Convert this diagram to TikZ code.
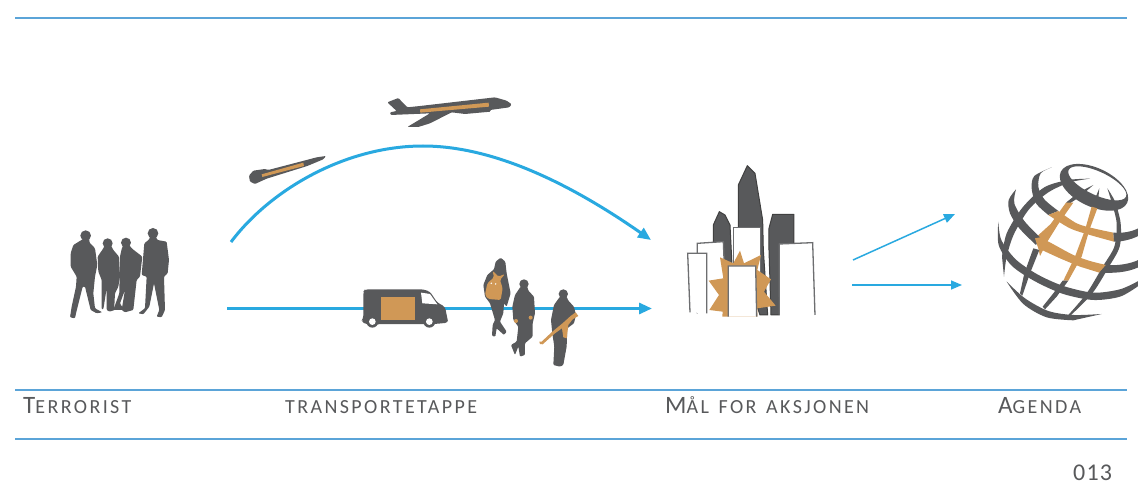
\documentclass[tikz,border=0pt]{standalone}
\usepackage{fontspec}
\setmainfont{Carlito}
\newfontfamily\capsfont[LetterSpace=12,WordSpace=1.4]{Carlito}
\newfontfamily\numfont[LetterSpace=5]{Carlito}
\usetikzlibrary{arrows.meta}
\definecolor{dk}{HTML}{58595B}
\definecolor{org}{HTML}{D09856}
\definecolor{blu}{HTML}{29A9E0}
\definecolor{rul}{HTML}{5BA4D8}
\definecolor{grayl}{HTML}{6D6E70}
\newcommand{\biginit}[1]{{\fontsize{25}{25}\selectfont #1}}
\tikzset{
  x=1pt,y=-1pt,
  rulestyle/.style={draw=rul,line width=1.4pt},
  mainarrow/.style={draw=blu,line width=3pt,-{Triangle[length=13pt,width=11pt]}},
  thinarrow/.style={draw=blu,line width=1.5pt,-{Triangle[length=11pt,width=9pt]}},
  dark/.style={fill=dk,draw=none,rounded corners=1pt},
  orange/.style={fill=org,draw=none},
  tower/.style={fill=dk,draw=black!75,line width=1pt,line join=round},
  bld/.style={fill=white,draw=grayl,line width=1.3pt},
  lab/.style={anchor=base west,inner sep=0pt,text=dk,font=\capsfont\fontsize{20}{20}\selectfont},
  za/.style={shift={(50pt,-80pt)},x=.3333pt,y=-.3333pt},
  zb/.style={shift={(350pt,-80pt)},x=.3333pt,y=-.3333pt},
  zc/.style={shift={(670pt,-150pt)},x=.3333pt,y=-.3333pt},
  zd/.style={shift={(980pt,-150pt)},x=.3333pt,y=-.3333pt},
}
\begin{document}
\begin{tikzpicture}
\useasboundingbox (0,0) rectangle (1138,484);
\fill[white] (0,0) rectangle (1138,484);
% rules
\coordinate (r1a) at (15,18); \coordinate (r1b) at (1127,18);
\coordinate (r2a) at (15,390); \coordinate (r2b) at (1127,390);
\coordinate (r3a) at (15,439); \coordinate (r3b) at (1127,439);
\draw[rulestyle] (r1a) -- (r1b);
\draw[rulestyle] (r2a) -- (r2b);
\draw[rulestyle] (r3a) -- (r3b);
% connectors
\coordinate (arcS) at (231,242); \coordinate (arcE) at (651,240);
\coordinate (lineS) at (227,308.5); \coordinate (lineE) at (652,308.5);
\coordinate (upS) at (853,260); \coordinate (upE) at (955,214);
\coordinate (rtS) at (852,285); \coordinate (rtE) at (962,285);
\draw[mainarrow] (arcS) .. controls (270,190) and (345,146) .. (423,146) .. controls (490,146) and (565,180) .. (arcE);
\draw[mainarrow] (lineS) -- (lineE);
\draw[thinarrow] (upS) -- (upE);
\draw[thinarrow] (rtS) -- (rtE);
% people group
\begin{scope}[za]
\fill[dk] (107,467) circle (16);
\fill[dk] (173,490) circle (15);
\fill[dk] (228,488) circle (15);
\fill[dk] (309,460) circle (16);
\path[dark] (143,530)--(160,505)--(165,495)--(182,495)--(190,510)--(207,530)--(210,590)--(205,620)--(195,640)--(193,680)--(195,690)--(178,695)--(170,690)--(170,625)--(160,688)--(155,688)--(155,600)--(145,575)--cycle;
\path[dark] (210,530)--(215,507)--(220,495)--(238,495)--(245,505)--(277,530)--(270,590)--(260,600)--(250,690)--(225,697)--(215,690)--(225,630)--(210,670)--(222,690)--(190,690)--(208,640)--cycle;
\path[dark] (70,495)--(98,478)--(118,478)--(118,487)--(135,505)--(142,555)--(135,590)--(130,640)--(135,685)--(157,697)--(140,700)--(122,690)--(105,620)--(98,620)--(78,700)--(75,715)--(60,712)--(65,680)--(78,620)--(80,590)--(62,560)--(62,520)--cycle;
\path[dark] (298,478)--(300,470)--(318,470)--(322,480)--(350,485)--(357,540)--(353,580)--(342,590)--(345,690)--(335,712)--(320,710)--(328,690)--(312,610)--(298,680)--(280,703)--(265,700)--(285,685)--(290,590)--(275,585)--(283,490)--cycle;
% missile
\path[dark] (597,287)--(610,272)--(645,267)--(655,270)--(770,240)--(800,232)--(828,228)--(820,238)--(772,258)--(650,296)--(615,312)--(600,305)--cycle;
\path[orange] (635,283)--(760,248)--(762,258)--(637,291)--cycle;
\end{scope}
\begin{scope}[zb]
% plane
\path[dark] (112,67)--(145,54)--(172,82)--(210,78)--(435,52)--(470,62)--(485,73)--(478,82)--(420,90)--(422,95)--(345,102)--(305,97)--(240,130)--(205,141)--(172,141)--(240,100)--(122,105)--(120,97)--(140,93)--cycle;
\path[orange] (210,88)--(416,68)--(417,80)--(211,98)--cycle;
% van
\path[dark,rounded corners=3pt] (40,635)--(45,628)--(220,628)--(240,635)--(262,668)--(285,680)--(292,715)--(295,728)--(255,732)--(50,733)--(33,725)--(40,715)--cycle;
\fill[dk] (67,725) circle (18);
\fill[dk] (238,725) circle (18);
\fill[white] (67,725) circle (10);
\fill[white] (238,725) circle (10);
\fill[white] (213,638)--(240,642)--(262,673)--(217,670)--cycle;
\path[orange] (93,651) rectangle (195,720);
% woman
\path[dark] (437,545)--(452,533)--(466,545)--(470,580)--(482,640)--(470,680)--(462,670)--(460,700)--(450,725)--(470,755)--(462,765)--(440,745)--(436,770)--(426,768)--(428,735)--(435,720)--(420,670)--(405,650)--(400,615)--(412,585)--(432,568)--cycle;
\path[orange,rounded corners=1.5pt] (428,572)--(445,590)--(465,582)--(450,600)--(458,625)--(452,660)--(415,657)--(405,645)--(412,610)--(432,592)--cycle;
\fill[white] (424,610) circle (2.5);
\fill[white] (437,612) circle (2.5);
% man 2
\fill[dk] (522,612) circle (14);
\path[dark] (512,620)--(532,620)--(535,632)--(552,650)--(555,700)--(548,730)--(548,770)--(525,790)--(525,825)--(510,830)--(505,800)--(495,825)--(483,795)--(500,785)--(505,740)--(490,720)--(487,680)--(495,645)--cycle;
\fill[org] (498,723) circle (6);
\fill[org] (542,713) circle (6);
% man 3
\fill[dk] (640,642) circle (14);
\path[dark] (630,650)--(650,650)--(655,662)--(672,680)--(678,705)--(672,730)--(652,745)--(650,800)--(640,855)--(630,860)--(610,855)--(613,800)--(607,760)--(603,720)--(612,675)--cycle;
\path[orange] (568,785)--(575,785)--(605,757)--(640,728)--(662,708)--(677,697)--(685,708)--(668,718)--(655,735)--(650,775)--(640,772)--(636,745)--(615,760)--(578,793)--(570,792)--cycle;
\end{scope}
% city
\begin{scope}[zc]
\path[tower] (205,105)--(232,47)--(255,70)--(278,210)--(280,300)--(293,495)--(270,495)--(205,300)--cycle;
\path[tower] (130,225)--(148,185)--(165,195)--(180,225)--(186,345)--(130,345)--cycle;
\path[tower] (297,235)--(308,193)--(372,193)--(372,285)--(330,285)--(328,495)--(303,495)--(297,300)--cycle;
\path[bld] (190,232)--(272,232)--(272,380)--(190,380)--cycle;
\path[bld] (82,490)--(82,280)--(160,275)--(165,400)--(165,490);
\path[bld] (60,487)--(53,310)--(110,310)--(110,490);
\path[bld] (328,495)--(328,282)--(428,278)--(435,495);
\path[orange] (210,302)--(222,340)--(273,315)--(262,360)--(303,388)--(282,425)--(317,467)--(262,475)--(262,500)--(157,500)--(158,485)--(118,480)--(147,435)--(116,392)--(160,385)--(150,322)--(190,340)--cycle;
\path[bld] (175,500)--(175,348)--(257,348)--(260,500);
\end{scope}
% globe
\begin{scope}[zd]
\fill[dk,even odd rule] (342,112) ellipse [x radius=110,y radius=58,rotate=-25] (352,100) ellipse [x radius=95,y radius=35,rotate=-25];
\fill[dk] plot[smooth] coordinates {(330,86)(270,97)(205,127)(147,178)(102,252)(80,320)(72,380)} -- plot[smooth] coordinates {(66,320)(80,250)(128,172)(193,112)(265,90)(330,86)} -- cycle;
\fill[dk] (340,105)--(300,140)--(270,160)--(258,158)--(295,128)--cycle;
\fill[org] (280,158)--(235,222)--(202,275)--(180,318)--(168,262)--(212,222)--(258,158)--cycle;
\fill[dk] (178,300)--(150,370)--(127,437)--(120,430)--(133,370)--(160,295)--cycle;
\fill[dk] (358,115)--(352,175)--(335,170)--cycle;
\fill[org] (352,175)--(328,240)--(305,320)--(265,392)--(250,392)--(285,320)--(315,240)--(335,170)--cycle;
\fill[dk] (265,392)--(230,440)--(195,478)--(188,470)--(220,430)--(248,392)--cycle;
\fill[dk] plot[smooth] coordinates {(382,115)(405,155)(422,220)(419,290)(387,350)(337,430)(270,498)} -- plot[smooth] coordinates {(265,495)(320,430)(368,350)(403,290)(410,220)(396,160)(382,115)} -- cycle;
% latitudes
\fill[dk] plot[smooth] coordinates {(215,52)(182,70)(175,110)(193,148)(235,183)} -- plot[smooth] coordinates {(205,195)(168,160)(155,115)(163,78)(215,52)} -- cycle;
\fill[org] plot[smooth] coordinates {(235,183)(290,220)(340,235)(400,248)} -- plot[smooth] coordinates {(402,275)(330,255)(270,235)(205,195)} -- cycle;
\fill[dk] (400,248) .. controls (430,250) and (455,245) .. (475,235) -- (475,258) .. controls (450,270) and (425,275) .. (402,275) -- cycle;
\fill[dk] plot[smooth] coordinates {(108,118)(103,160)(133,213)(180,262)} -- plot[smooth] coordinates {(168,285)(118,235)(90,190)(86,150)(108,118)} -- cycle;
\fill[org] plot[smooth] coordinates {(180,262)(215,280)(280,315)(330,333)(378,345)} -- (358,368) -- plot[smooth] coordinates {(300,350)(240,325)(175,295)} -- (165,265) -- cycle;
\fill[dk] (378,345) .. controls (410,348) and (450,342) .. (475,330) -- (475,352) .. controls (440,368) and (400,370) .. (358,368) -- cycle;
\fill[dk] plot[smooth] coordinates {(55,215)(64,270)(107,328)(172,373)(250,408)(340,428)(420,418)(475,393)} -- plot[smooth] coordinates {(475,408)(420,440)(340,450)(250,432)(165,394)(95,347)(56,285)(55,215)} -- cycle;
\fill[dk] plot[smooth] coordinates {(80,395)(135,445)(205,483)(280,495)(365,492)} -- plot[smooth] coordinates {(280,511)(200,502)(130,462)(80,395)} -- cycle;
\end{scope}
% labels
\node[lab] (l1) at (23,413) {\biginit{T}ERRORIST};
\node[lab] (l2) at (285,413) {TRANSPORTETAPPE};
\node[lab] (l3) at (665,413) {\biginit{M}ÅL FOR AKSJONEN};
\node[lab] (l4) at (998,413) {\biginit{A}GENDA};
\node[anchor=base west,inner sep=0pt,text=dk,font=\numfont\fontsize{24}{24}\selectfont] (pg) at (1073,480) {013};
\end{tikzpicture}
\end{document}
